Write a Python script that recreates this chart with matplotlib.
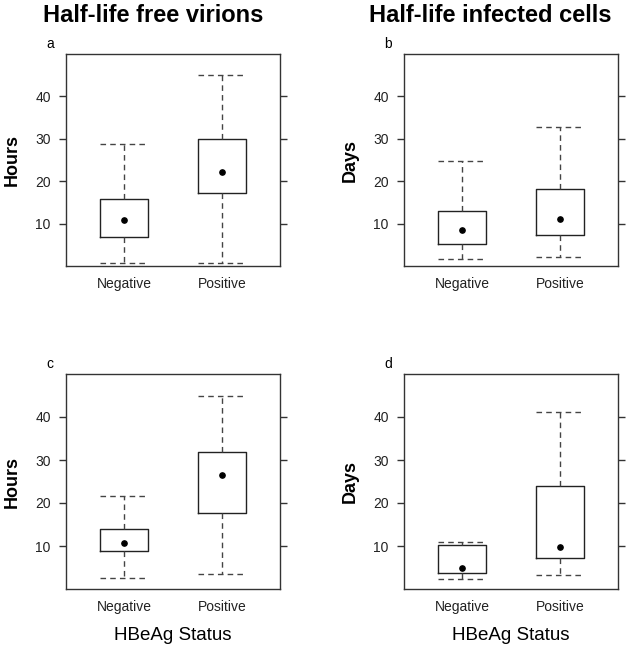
import matplotlib
matplotlib.use("Agg")
import matplotlib.pyplot as plt

plt.rcParams['font.family'] = ['Liberation Sans', 'DejaVu Sans']

groups = ['Negative', 'Positive']
yticks = [10, 20, 30, 40]

# per panel: lower whisker, Q1, median (dot), Q3, upper whisker  for [Negative, Positive]
a_lo = [0.8, 0.8];  a_q1 = [6.8, 17.1];  a_med = [10.8, 22.2]; a_q3 = [15.9, 30.0]; a_hi = [28.8, 45.1]
b_lo = [1.6, 2.2];  b_q1 = [5.1, 7.3];   b_med = [8.4, 11.0];  b_q3 = [13.0, 18.1]; b_hi = [24.7, 32.9]
c_lo = [2.6, 3.6];  c_q1 = [8.8, 17.6];  c_med = [10.8, 26.6]; c_q3 = [14.0, 31.9]; c_hi = [21.6, 45.0]
d_lo = [2.4, 3.3];  d_q1 = [3.7, 7.3];   d_med = [4.8, 9.7];   d_q3 = [10.2, 23.9]; d_hi = [10.9, 41.1]

panels = [
    ('a', 'Hours', (a_lo, a_q1, a_med, a_q3, a_hi)),
    ('b', 'Days', (b_lo, b_q1, b_med, b_q3, b_hi)),
    ('c', 'Hours', (c_lo, c_q1, c_med, c_q3, c_hi)),
    ('d', 'Days', (d_lo, d_q1, d_med, d_q3, d_hi)),
]

W, H = 632, 650
fig = plt.figure(figsize=(W/100, H/100), dpi=100)

# axes boxes in pixels (left, top, right, bottom)
boxes = [(66, 54, 280, 266), (404, 54, 618, 266), (66, 374, 280, 589), (404, 374, 618, 589)]

for (letter, ylab, (lo, q1, med, q3, hi)), (l, t, r, b) in zip(panels, boxes):
    ax = fig.add_axes([l/W, 1-b/H, (r-l)/W, (b-t)/H])
    stats = []
    for i in range(2):
        stats.append(dict(whislo=lo[i], q1=q1[i], med=med[i], q3=q3[i], whishi=hi[i], fliers=[]))
    ax.bxp(stats, positions=[1, 2], widths=0.49, capwidths=0.49, showfliers=False,
           boxprops=dict(color='#222222', linewidth=1),
           whiskerprops=dict(color='#444444', linewidth=1, linestyle=(0, (4, 3))),
           capprops=dict(color='#444444', linewidth=1, linestyle=(0, (4, 3))),
           medianprops=dict(linewidth=0))
    ax.plot([1, 2], med, 'o', color='black', markersize=3.8)
    ax.set_xlim(0.41, 2.59)
    ax.set_ylim(0, 50)
    ax.set_yticks(yticks)
    ax.set_xticks([1, 2])
    ax.set_xticklabels(groups, fontsize=10, color='#222222')
    ax.tick_params(axis='x', length=0, pad=8)
    ax.tick_params(axis='y', length=5, width=1, color='#333333', pad=6,
                   labelsize=10, labelcolor='#222222', right=True, direction='out')
    for s in ax.spines.values():
        s.set_color('#333333')
        s.set_linewidth(1)
    fig.text((l - 16)/W, 1-(t - 6)/H, letter, fontsize=10, ha='center', va='baseline')
    fig.text((l - 54)/W, 1-((t+b)/2)/H, ylab, fontsize=13, fontweight='bold',
             rotation=90, ha='center', va='center')

fig.text(153/W, 1-22/H, 'Half-life free virions', fontsize=17, fontweight='bold', ha='center', va='baseline')
fig.text(490/W, 1-22/H, 'Half-life infected cells', fontsize=17, fontweight='bold', ha='center', va='baseline')
fig.text(173/W, 1-640/H, 'HBeAg Status', fontsize=13.5, ha='center', va='baseline')
fig.text(511/W, 1-640/H, 'HBeAg Status', fontsize=13.5, ha='center', va='baseline')

fig.savefig('out.png', dpi=100)
